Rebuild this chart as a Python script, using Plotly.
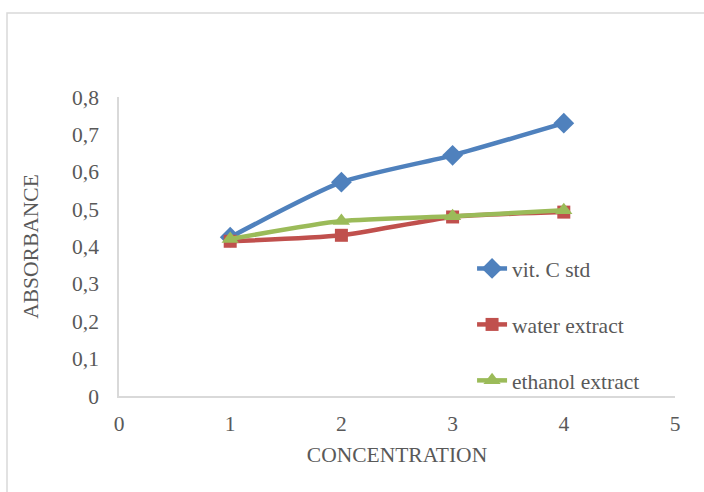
import plotly.graph_objects as go

concentration = [1, 2, 3, 4]
vit_c_std = [0.425, 0.572, 0.644, 0.730]
water_extract = [0.414, 0.430, 0.479, 0.492]
ethanol_extract = [0.420, 0.468, 0.481, 0.497]

series = [
    ("vit. C std", vit_c_std, "#4F81BD", "diamond", 16),
    ("water extract", water_extract, "#C0504D", "square", 13),
    ("ethanol extract", ethanol_extract, "#9BBB59", "triangle-up", 15),
]

fig = go.Figure()
for i, (name, vals, color, sym, size) in enumerate(series):
    fig.add_trace(go.Scatter(
        x=concentration, y=vals, name=name, mode="lines+markers",
        line=dict(color=color, width=4.5, shape="spline", smoothing=0.6),
        marker=dict(symbol=sym, size=size, color=color),
        legendgroup=f"g{i}",
    ))

font = "Liberation Serif, Times New Roman, serif"
fs = 21.5
fig.update_layout(
    width=704, height=492,
    margin=dict(l=119, r=29, t=97, b=96),
    paper_bgcolor="white", plot_bgcolor="white",
    separators=", ",
    font=dict(family=font, size=fs, color="#595959"),
    showlegend=True,
    legend=dict(x=0.635, y=0.495, xanchor="left", yanchor="top",
                tracegroupgap=25, font=dict(family=font, size=fs, color="#595959"),
                bgcolor="rgba(0,0,0,0)"),
    xaxis=dict(range=[0, 5], dtick=1, showgrid=False, zeroline=False,
               showline=True, linecolor="#D9D9D9", linewidth=1.5,
               ticks="", tickfont=dict(family=font, size=fs), ticklabelstandoff=7,
               title=dict(text="CONCENTRATION", font=dict(family=font, size=fs), standoff=12)),
    yaxis=dict(range=[0, 0.8], dtick=0.1, showgrid=False, zeroline=False,
               showline=True, linecolor="#D9D9D9", linewidth=1.5,
               ticks="", tickfont=dict(family=font, size=fs), tickformat=".1~f",
               ticklabelstandoff=14,
               title=dict(text="ABSORBANCE", font=dict(family=font, size=fs), standoff=28)),
)
fig.add_shape(type="rect", xref="paper", yref="paper",
              x0=(7 - 119) / 556, x1=1.2, y0=-1, y1=(396 - 13) / 299,
              line=dict(color="#D9D9D9", width=1.5), fillcolor="rgba(0,0,0,0)",
              layer="below")
fig.write_html("out.html")
